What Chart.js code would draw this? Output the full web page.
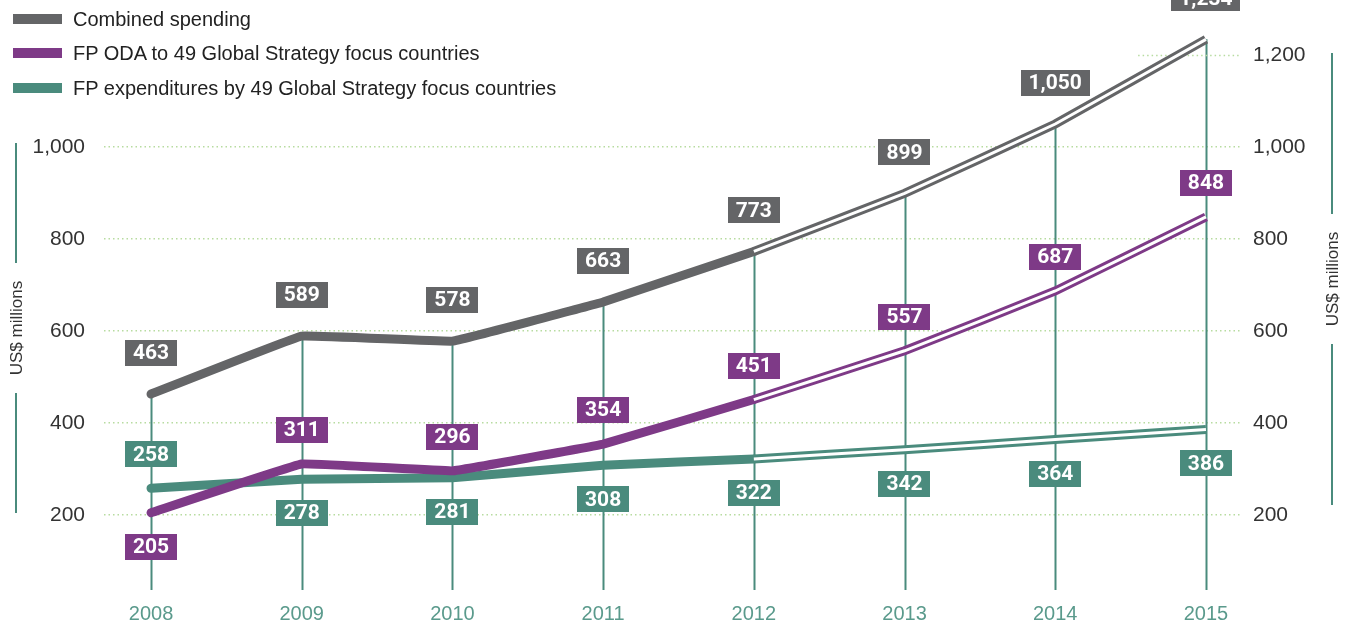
<!DOCTYPE html>
<html>
<head>
<meta charset="utf-8">
<script src="https://cdn.jsdelivr.net/npm/chart.js@4.4.0/dist/chart.umd.min.js"></script>
<style>
  body { margin: 0; background: #fff; }
  #wrap { position: relative; width: 1353px; height: 623px; }
  .legend { position: absolute; left: 13px; font: 20px "Liberation Sans", Arial, sans-serif; color: #222; line-height: 24px; }
  .legend span { display: inline-block; width: 49px; height: 10px; margin-right: 11px; vertical-align: 2px; }
</style>
</head>
<body>
<div id="wrap">
  <canvas id="chart" width="1353" height="623"></canvas>
  <div class="legend" style="top:7px"><span style="background:#646567"></span>Combined spending</div>
  <div class="legend" style="top:41px"><span style="background:#7e3a87"></span>FP ODA to 49 Global Strategy focus countries</div>
  <div class="legend" style="top:76px"><span style="background:#4a8b7d"></span>FP expenditures by 49 Global Strategy focus countries</div>
</div>
<script>
// data
const years = [2008, 2009, 2010, 2011, 2012, 2013, 2014, 2015];
const combined = [463, 589, 578, 663, 773, 899, 1050, 1234];
const oda = [205, 311, 296, 354, 451, 557, 687, 848];
const expenditures = [258, 278, 281, 308, 322, 342, 364, 386];
const leftTicks = [200, 400, 600, 800, 1000];
const rightTicks = [200, 400, 600, 800, 1000, 1200];
const lastActual = 4; // 2012, later years drawn as double line

// label placement for each series
const combinedPos = ['up', 'up', 'up', 'up', 'up', 'up', 'up', 'up'];
const odaPos = ['down', 'up', 'up', 'up', 'up', 'up', 'up', 'up'];
const expPos = ['up', 'down', 'down', 'down', 'down', 'down', 'down', 'down'];

const GREY = '#646567', PURPLE = '#7e3a87', TEAL = '#4a8b7d';

const series = [
    { values: combined, color: GREY, pos: combinedPos, gap: 41 },
    { values: oda, color: PURPLE, pos: odaPos, gap: 34 },
    { values: expenditures, color: TEAL, pos: expPos, gap: 34 }
];

const toPoints = (vals, from, to) => years.slice(from, to).map((y, i) => ({ x: y, y: vals[from + i] }));

let datasets = [];
series.forEach(s => {
    datasets.push({ data: toPoints(s.values, 0, lastActual + 1), borderColor: s.color, borderWidth: 9,
        borderCapStyle: 'round', borderJoinStyle: 'round', order: 2 });
    datasets.push({ data: toPoints(s.values, lastActual, years.length), borderColor: s.color, borderWidth: 9,
        borderCapStyle: 'butt', order: 2 });
    datasets.push({ data: toPoints(s.values, lastActual, years.length), borderColor: '#ffffff', borderWidth: 3,
        borderCapStyle: 'butt', order: 1 });
});

// teal drop lines from the top point down to the axis
const dropLines = {
    id: 'dropLines',
    beforeDatasetsDraw(chart) {
        const { ctx, chartArea, scales } = chart;
        ctx.save();
        ctx.strokeStyle = TEAL;
        ctx.lineWidth = 2;
        years.forEach((yr, i) => {
            const top = Math.max(combined[i], oda[i], expenditures[i]);
            const x = Math.round(scales.x.getPixelForValue(yr)) + 0.5;
            ctx.beginPath();
            ctx.moveTo(x, scales.y.getPixelForValue(top));
            ctx.lineTo(x, chartArea.bottom);
            ctx.stroke();
        });
        // short top gridline at 1,200
        const gy = Math.round(scales.y2.getPixelForValue(1200)) + 0.5;
        ctx.strokeStyle = '#b7dca0';
        ctx.lineWidth = 1.5;
        ctx.setLineDash([1.5, 3]);
        ctx.beginPath();
        ctx.moveTo(scales.x.getPixelForValue(2014.55), gy);
        ctx.lineTo(chartArea.right, gy);
        ctx.stroke();
        ctx.restore();
    }
};

// value boxes
const valueLabels = {
    id: 'valueLabels',
    afterDatasetsDraw(chart) {
        const { ctx, scales } = chart;
        ctx.save();
        ctx.font = 'bold 21px Roboto, "Liberation Sans", sans-serif';
        ctx.textAlign = 'center';
        ctx.textBaseline = 'middle';
        series.forEach(s => {
            s.values.forEach((v, i) => {
                const x = scales.x.getPixelForValue(years[i]);
                const py = scales.y.getPixelForValue(v);
                const cy = s.pos[i] === 'up' ? py - s.gap : py + 34;
                const txt = v.toLocaleString('en-US');
                const w = ctx.measureText(txt).width + 16;
                ctx.fillStyle = s.color;
                ctx.fillRect(Math.round(x - w / 2), Math.round(cy - 13), Math.round(w), 26);
                ctx.fillStyle = '#fff';
                ctx.fillText(txt, x, cy + 1);
            });
        });
        ctx.restore();
    }
};

// rotated axis titles with lines above and below
const axisTitles = {
    id: 'axisTitles',
    afterDraw(chart) {
        const { ctx, scales } = chart;
        const draw = (x, top, bottom) => {
            const mid = (top + bottom) / 2;
            ctx.save();
            ctx.strokeStyle = TEAL;
            ctx.lineWidth = 2;
            ctx.beginPath();
            ctx.moveTo(x, top); ctx.lineTo(x, mid - 65);
            ctx.moveTo(x, mid + 65); ctx.lineTo(x, bottom);
            ctx.stroke();
            ctx.translate(x + 1, mid);
            ctx.rotate(-Math.PI / 2);
            ctx.font = '17px "Liberation Sans", Arial, sans-serif';
            ctx.fillStyle = '#333';
            ctx.textAlign = 'center';
            ctx.textBaseline = 'middle';
            ctx.fillText('US$ millions', 0, 0);
            ctx.restore();
        };
        draw(16, scales.y.getPixelForValue(1000) - 4, scales.y.getPixelForValue(200) - 2);
        draw(1332, scales.y2.getPixelForValue(1200) - 2, scales.y2.getPixelForValue(200) - 10);
    }
};

const tickFont = { family: '"Liberation Sans", Arial, sans-serif', size: 21 };
const noPad = s => { s.paddingTop = 0; s.paddingBottom = 0; s.paddingLeft = 0; s.paddingRight = 0; };

new Chart(document.getElementById('chart'), {
    type: 'line',
    data: { datasets: datasets },
    options: {
        responsive: false,
        animation: false,
        devicePixelRatio: 1,
        layout: { padding: { top: 9, left: 0, right: 0, bottom: 0 } },
        elements: { point: { radius: 0 }, line: { tension: 0.05 } },
        plugins: { legend: { display: false }, tooltip: { enabled: false } },
        scales: {
            x: {
                type: 'linear', min: 2007.688, max: 2015.226,
                afterBuildTicks: s => { s.ticks = years.map(v => ({ value: v })); },
                afterFit: s => { s.height = 33; noPad(s); },
                grid: { display: false }, border: { display: false },
                ticks: { color: '#5a9a8c', font: { family: tickFont.family, size: 20 }, padding: 4, callback: v => String(v), maxRotation: 0 }
            },
            y: {
                position: 'left', min: 37, max: 1300,
                afterBuildTicks: s => { s.ticks = leftTicks.map(v => ({ value: v })); },
                afterFit: s => { s.width = 104; noPad(s); },
                grid: { display: false }, border: { display: false },
                ticks: { color: '#333', font: tickFont, padding: 11, callback: v => v.toLocaleString('en-US') }
            },
            y2: {
                position: 'right', min: 37, max: 1300,
                afterBuildTicks: s => { s.ticks = rightTicks.map(v => ({ value: v })); },
                afterFit: s => { s.width = 113; noPad(s); },
                grid: { drawTicks: false, lineWidth: 1.5, color: c => c.tick && c.tick.value === 1200 ? 'rgba(0,0,0,0)' : '#b7dca0' },
                border: { display: false, dash: [1.5, 3] },
                ticks: { color: '#333', font: tickFont, padding: 13, callback: v => v.toLocaleString('en-US') }
            }
        }
    },
    plugins: [dropLines, valueLabels, axisTitles]
});
</script>
</body>
</html>
